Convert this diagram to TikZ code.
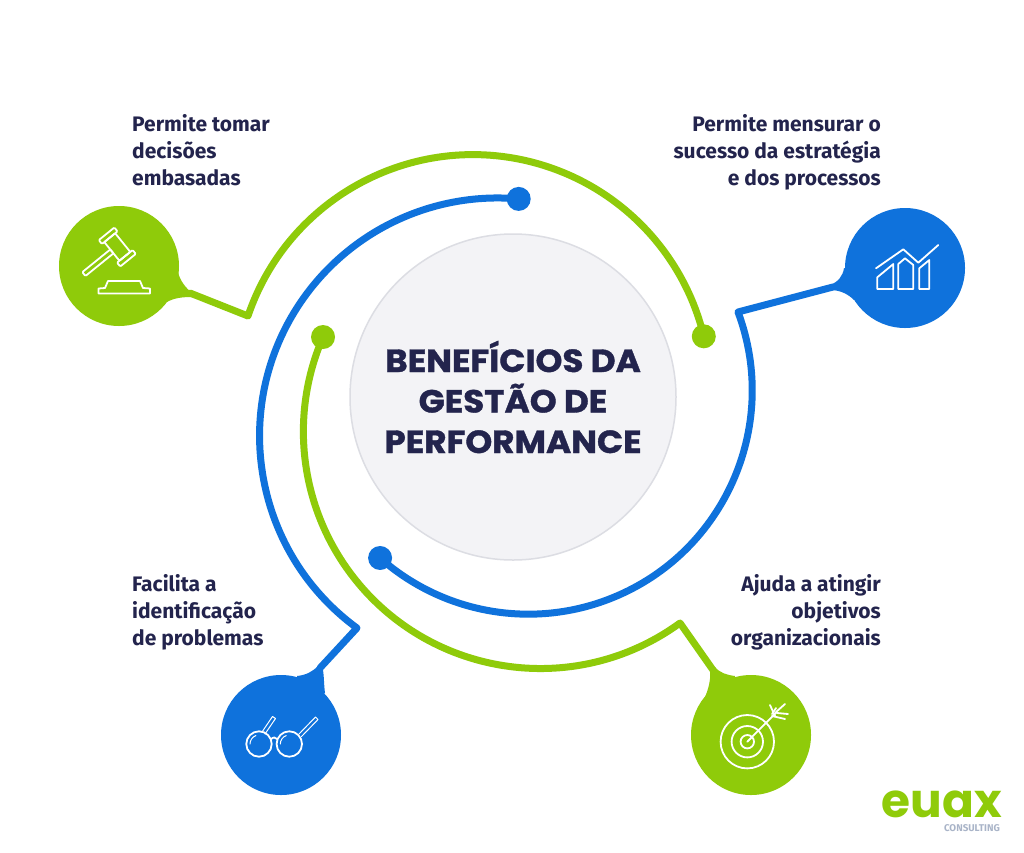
\documentclass[tikz,border=0pt]{standalone}
\usepackage{fontspec}
\setmainfont{Fira Sans}
\newfontfamily\titlefont[BoldFeatures={FakeStretch=1.07,FakeBold=1.2}]{Poppins}
\newfontfamily\logofont{Poppins}
\definecolor{lime}{HTML}{8FCB0A}
\definecolor{azure}{HTML}{0F72DC}
\definecolor{navy}{HTML}{23244D}
\definecolor{disc}{HTML}{F3F3F6}
\definecolor{discedge}{HTML}{DCDDE3}
\definecolor{logogray}{HTML}{A9B4C8}
\tikzset{
  ring/.style={line width=7pt,line cap=round,line join=round},
  spot/.style={circle,minimum size=24pt,inner sep=0pt},
  bubble/.style={circle,minimum size=120pt,inner sep=0pt},
  tail/.style={line join=round},
  icon/.style={draw=white,line width=1.8pt,line join=round,line cap=round},
  lbl/.style={text=navy,font=\fontsize{21}{27}\selectfont\bfseries,inner sep=0pt},
}
\begin{document}
\begin{tikzpicture}[x=1pt,y=-1pt]
\useasboundingbox (0,0) rectangle (1024,852);
\fill[white] (0,0) rectangle (1024,852);
% centre
\node[circle,minimum size=326pt,inner sep=0pt,fill=disc,draw=discedge,line width=1.5pt,
  text=navy,align=center,font=\titlefont\fontsize{32}{40.5}\selectfont\bfseries] (centre) at (513,397)
  {BENEFÍCIOS DA\\GESTÃO DE\\PERFORMANCE};
% bubbles
\node[bubble,fill=lime] (gavelb) at (119,266) {};
\node[bubble,fill=azure] (chartb) at (905,268) {};
\node[bubble,fill=azure] (glassb) at (281,735) {};
\node[bubble,fill=lime] (targetb) at (751,735) {};
% tails
\fill[lime,tail] (178,272) .. controls (180,281) and (186,288) .. (192,293) -- (192,297) .. controls (182,297) and (174,298) .. (167,302) -- (140,280) -- cycle;
\fill[azure,tail] (844,268) .. controls (843,276) and (838,282) .. (830,285) -- (830,290) .. controls (840,290) and (848,294) .. (854,300) -- (880,280) -- cycle;
\fill[azure,tail] (297,676) .. controls (306,675) and (312,672) .. (318,666) -- (323,670) .. controls (324,676) and (324,686) .. (325,693) -- (300,710) -- cycle;
\fill[lime,tail] (735,676) .. controls (727,675) and (720,673) .. (715,667) -- (710,671) .. controls (711,680) and (708,690) .. (705,697) -- (730,710) -- cycle;
% rings
\coordinate (gk) at (248,316);
\coordinate (bk) at (738,312);
\coordinate (lk) at (357,628);
\coordinate (tk) at (680,623);
\draw[ring,lime] (190,293) -- (gk) arc[start angle=198.7,end angle=346.4,radius=237.5] coordinate (ge);
\draw[ring,azure] (833,287) -- (bk) arc[start angle=-20.5,end angle=131.5,radius=223.8] coordinate (be);
\draw[ring,azure] (320,668) -- (lk) arc[start angle=126.2,end angle=275.1,radius=238] coordinate (le);
\draw[ring,lime] (713,670) -- (tk) arc[start angle=53.9,end angle=203.5,radius=237] coordinate (te);
\node[spot,fill=lime] (gdot) at (ge) {};
\node[spot,fill=azure] (bdot) at (be) {};
\node[spot,fill=azure] (ldot) at (le) {};
\node[spot,fill=lime] (tdot) at (te) {};
% gavel icon
\begin{scope}[shift={(117.3,247)},rotate=-51,icon,rounded corners=1pt]
  \draw (-12,-7) rectangle (12,7);
  \draw (-17,-10) rectangle (-12,10);
  \draw (12,-10) rectangle (17,10);
  \draw (-2.5,7) rectangle (2.5,43);
\end{scope}
\draw[icon] (98.5,293.5) -- (150,293.5) -- (150,288.5) -- (143,288) -- (140,281) -- (108,281) -- (105,288) -- (98.5,288.5) -- cycle;
% chart icon
\draw[icon] (876,268.3) -- (903.3,249.3) -- (918.3,262.7) -- (938.3,245);
\draw[icon] (877.3,289) -- (877.3,277.3) -- (893.3,264) -- (893.3,289) -- cycle;
\draw[icon] (898.3,289) -- (898.3,264) -- (905,258.3) -- (913.3,265) -- (913.3,289) -- cycle;
\draw[icon] (919.3,289) -- (919.3,268.3) -- (929.3,260) -- (929.3,289) -- cycle;
% glasses icon
\draw[icon] (259,744) circle[radius=12.7];
\draw[icon] (289.3,744) circle[radius=12.7];
\draw[icon] (271,739) .. controls (274,737) and (275,737) .. (277,739);
\draw[icon,line width=1pt] (250,744) arc[start angle=180,end angle=250,radius=9];
\draw[icon,line width=1pt] (280.3,744) arc[start angle=180,end angle=250,radius=9];
\draw[icon,line width=1pt] (262,732) -- (272.5,716.5) -- (275.5,718.5) -- (265,734);
\draw[icon,line width=1pt] (299,734) -- (315.5,717) -- (318,719.5) -- (301.5,736.5);
% target icon
\draw[icon] (747.3,741.7) circle[radius=26.7];
\draw[icon] (747.3,741.7) circle[radius=15.7];
\draw[icon] (747.3,741.7) circle[radius=6.7];
\draw[icon] (747.3,741.7) -- (776.7,712);
\draw[icon] (770,705) -- (775,716);
\draw[icon] (776,708) -- (772,714);
\draw[icon] (785,704) -- (776,712);
\draw[icon] (788,714) -- (777,713);
\draw[icon] (785,719) -- (772,716);
% labels
\node[lbl,align=left,anchor=north west] (t1) at (132,114) {Permite tomar\\decisões\\embasadas};
\node[lbl,align=right,anchor=north east] (t2) at (881,114) {Permite mensurar o\\sucesso da estratégia\\e dos processos};
\node[lbl,align=left,anchor=north west] (t3) at (132,574) {Facilita a\\identificação\\de problemas};
\node[lbl,align=right,anchor=north east] (t4) at (881,574) {Ajuda a atingir\\objetivos\\organizacionais};
% logo
\node[text=lime,font=\logofont\fontsize{47}{47}\selectfont\bfseries,inner sep=0pt,anchor=base] (logo) at (942,817) {euax};
\node[text=logogray,font=\fontsize{9.8}{10}\selectfont\bfseries,inner sep=0pt,anchor=base east] (sub) at (1000,831) {CONSULTING};
\end{tikzpicture}
\end{document}
